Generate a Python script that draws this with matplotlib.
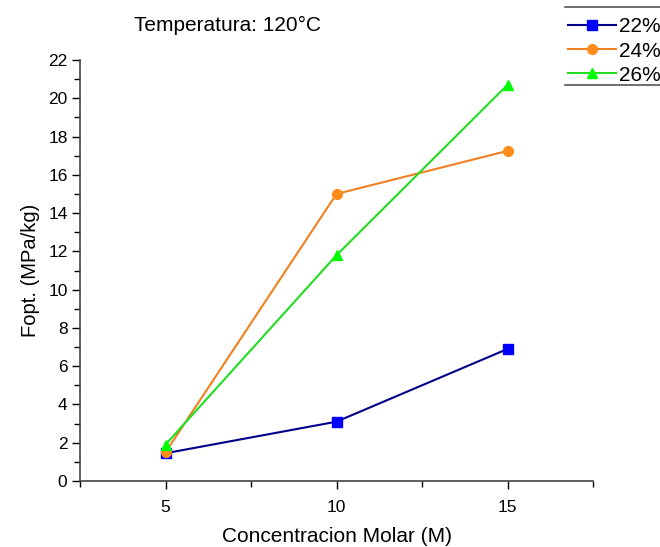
import matplotlib.pyplot as plt
from matplotlib.lines import Line2D

plt.rcParams['font.family'] = ['Liberation Sans', 'DejaVu Sans']

# === Data ===
concentracion = [5, 10, 15]
fopt_22 = [1.45, 3.1, 6.9]
fopt_24 = [1.5, 15.0, 17.25]
fopt_26 = [1.9, 11.8, 20.7]

series = [
    ("22%", fopt_22, "#0000ff", "#00008b", "s"),
    ("24%", fopt_24, "#ff8c1a", "#f08020", "o"),
    ("26%", fopt_26, "#00ff00", "#22dd22", "^"),
]

fig = plt.figure(figsize=(6.6, 5.47), dpi=100)
ax = fig.add_axes([80 / 660, 66 / 547, 513 / 660, 421 / 547])

for label, vals, mcol, lcol, mk in series:
    ax.plot(concentracion, vals, color=lcol, lw=1.5, marker=mk, markersize=7,
            markerfacecolor=mcol, markeredgecolor=mcol, label=label)

ax.set_xlim(2.5, 17.5)
ax.set_ylim(0, 22)
ax.set_xticks([5, 10, 15])
ax.set_xticks([2.5, 7.5, 12.5, 17.5], minor=True)
ax.set_yticks(range(0, 23, 2))
ax.set_yticks(range(1, 22, 2), minor=True)

for s in ['top', 'right']:
    ax.spines[s].set_visible(False)
for s in ['left', 'bottom']:
    ax.spines[s].set_color('#444444')
    ax.spines[s].set_linewidth(1.2)
ax.tick_params(which='major', direction='out', length=6, width=1, labelsize=12.5)
ax.tick_params(which='minor', direction='out', length=4, width=1)
ax.tick_params(axis='x', pad=8)
ax.tick_params(axis='y', pad=3)

ax.set_xlabel("Concentracion Molar (M)", fontsize=15, labelpad=8)
ax.set_ylabel("Fopt. (MPa/kg)", fontsize=14.5, labelpad=6)

fig.text(228 / 660, 1 - 25 / 547, "Temperatura: 120°C", fontsize=15,
         ha='center', va='center')

# legend with only top and bottom rules
handles = [Line2D([], [], color=lc, lw=1.5, marker=mk, markersize=7,
                  markerfacecolor=mc, markeredgecolor=mc)
           for _, _, mc, lc, mk in series]
fig.legend(handles, [s[0] for s in series], loc='upper left',
           bbox_to_anchor=(560 / 660, 1 - 9 / 547), frameon=False,
           fontsize=15, handlelength=2.3, handletextpad=0.15, labelspacing=0.25,
           borderaxespad=0)
for yy in [7, 85]:
    fig.add_artist(Line2D([565 / 660, 1.0], [1 - yy / 547, 1 - yy / 547],
                          color='#555555', lw=1.2, transform=fig.transFigure))

fig.savefig("out.png", dpi=100)
